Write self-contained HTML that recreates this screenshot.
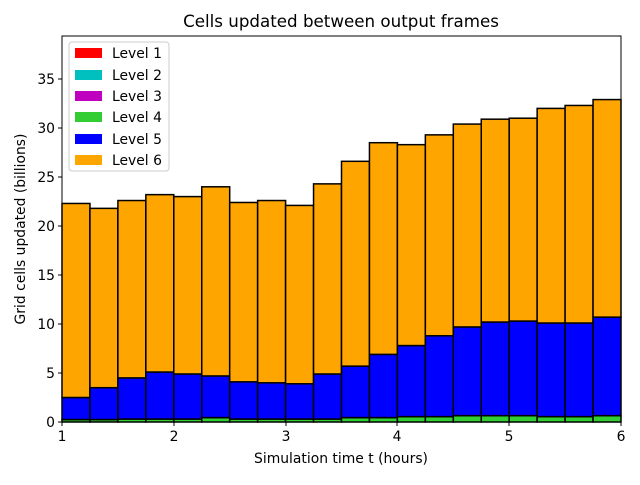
<!DOCTYPE html>
<html><head><meta charset="utf-8"><style>
body{margin:0;background:#fff}
svg{font-family:"DejaVu Sans","Liberation Sans",sans-serif}
</style></head><body>
<svg id="s" width="640" height="480" xmlns="http://www.w3.org/2000/svg">
<rect width="640" height="480" fill="#fff"/>
<text x="341" y="27" font-size="16.7" text-anchor="middle">Cells updated between output frames</text>
<g id="bars"></g>
<rect x="62" y="36" width="559" height="386" fill="none" stroke="#000" stroke-width="1"/>
<g stroke="#000" stroke-width="1">
<line x1="62" y1="422" x2="62" y2="426"/><line x1="174" y1="422" x2="174" y2="426"/><line x1="286" y1="422" x2="286" y2="426"/><line x1="397" y1="422" x2="397" y2="426"/><line x1="509" y1="422" x2="509" y2="426"/><line x1="621" y1="422" x2="621" y2="426"/>
<line x1="58" y1="422" x2="62" y2="422"/><line x1="58" y1="373" x2="62" y2="373"/><line x1="58" y1="324" x2="62" y2="324"/><line x1="58" y1="275" x2="62" y2="275"/><line x1="58" y1="226" x2="62" y2="226"/><line x1="58" y1="177" x2="62" y2="177"/><line x1="58" y1="128" x2="62" y2="128"/><line x1="58" y1="79" x2="62" y2="79"/>
</g>
<g font-size="13.9" text-anchor="middle">
<text x="62" y="441">1</text><text x="174" y="441">2</text><text x="286" y="441">3</text><text x="397" y="441">4</text><text x="509" y="441">5</text><text x="621" y="441">6</text>
<text x="341" y="463">Simulation time t (hours)</text>
</g>
<g font-size="13.9" text-anchor="end">
<text x="55" y="427">0</text><text x="55" y="378">5</text><text x="55" y="329">10</text><text x="55" y="280">15</text><text x="55" y="231">20</text><text x="55" y="182">25</text><text x="55" y="133">30</text><text x="55" y="84">35</text>
</g>
<text transform="translate(25,229) rotate(-90)" font-size="13.9" text-anchor="middle">Grid cells updated (billions)</text>
<rect x="69" y="42" width="100" height="129" rx="3" fill="#fff" fill-opacity="0.8" stroke="#ccc"/>
<g font-size="13.9">
<rect x="75" y="48" width="27" height="10" fill="#ff0000"/><text x="112" y="58">Level 1</text>
<rect x="75" y="70" width="27" height="10" fill="#00bfbf"/><text x="112" y="80">Level 2</text>
<rect x="75" y="91" width="27" height="10" fill="#bf00bf"/><text x="112" y="101">Level 3</text>
<rect x="75" y="112" width="27" height="10" fill="#32cd32"/><text x="112" y="122">Level 4</text>
<rect x="75" y="134" width="27" height="10" fill="#0000ff"/><text x="112" y="144">Level 5</text>
<rect x="75" y="155" width="27" height="10" fill="#ffa500"/><text x="112" y="165">Level 6</text>
</g>
</svg>
<script>
var t=[22.3,21.8,22.6,23.2,23.0,24.0,22.4,22.6,22.1,24.3,26.6,28.5,28.3,29.3,30.4,30.9,31.0,32.0,32.3,32.9];
var b=[2.5,3.5,4.5,5.1,4.9,4.7,4.1,4.0,3.9,4.9,5.7,6.9,7.8,8.8,9.7,10.2,10.3,10.1,10.1,10.7];
var g=[0.25,0.25,0.3,0.3,0.3,0.45,0.3,0.3,0.3,0.3,0.45,0.45,0.55,0.55,0.65,0.65,0.65,0.55,0.55,0.65];
var h='',w=559/20;function y(v){return 422-v*9.8}
function r(x,a,c,col){h+='<rect x="'+x+'" y="'+y(c)+'" width="'+w+'" height="'+(y(a)-y(c))+'" fill="'+col+'" stroke="#000" stroke-width="1.5"/>'}
for(var i=0;i<20;i++){var x=62+i*w;r(x,0,g[i],'#32cd32');r(x,g[i],b[i],'#0000ff');r(x,b[i],t[i],'#ffa500');}
document.getElementById('bars').innerHTML=h;
</script>
</body></html>
